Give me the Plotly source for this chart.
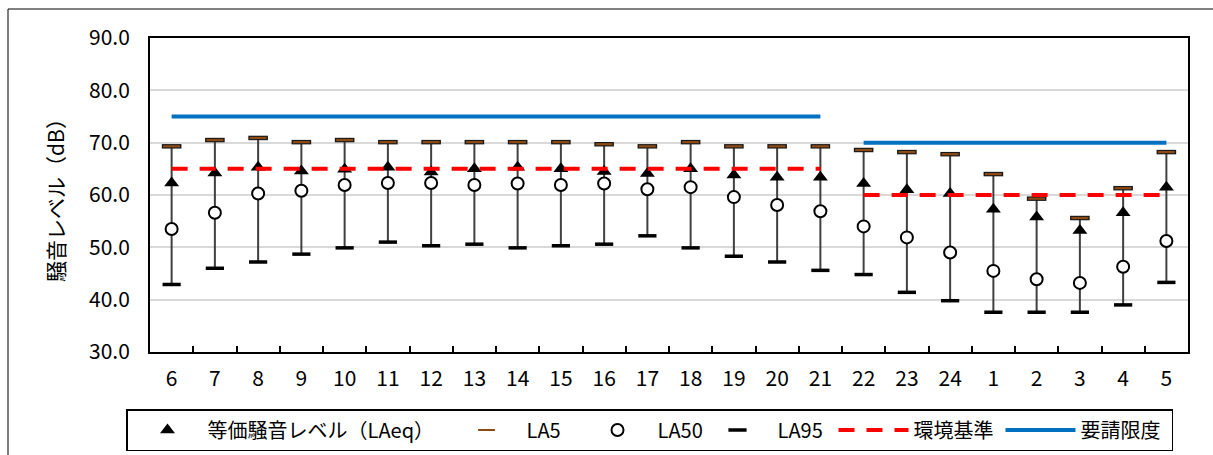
import plotly.graph_objects as go

# Hour of day (6時 → 翌5時)
hours = ["6", "7", "8", "9", "10", "11", "12", "13", "14", "15", "16", "17",
         "18", "19", "20", "21", "22", "23", "24", "1", "2", "3", "4", "5"]

# Measured levels (dB)
laeq = [62.3, 64.2, 65.3, 64.6, 64.9, 65.3, 64.4, 65.0, 65.3, 65.0, 64.5, 64.1,
        65.0, 63.8, 63.4, 63.4, 62.2, 61.0, 60.3, 57.3, 55.8, 53.2, 56.6, 61.5]
la5 = [69.3, 70.5, 70.9, 70.1, 70.5, 70.1, 70.1, 70.1, 70.1, 70.1, 69.7, 69.3,
       70.1, 69.3, 69.3, 69.3, 68.6, 68.2, 67.8, 64.0, 59.3, 55.6, 61.3, 68.2]
la50 = [53.5, 56.6, 60.3, 60.8, 61.9, 62.3, 62.3, 61.9, 62.2, 61.9, 62.2, 61.1,
        61.5, 59.6, 58.1, 56.9, 54.0, 51.9, 49.0, 45.5, 43.9, 43.2, 46.3, 51.2]
la95 = [42.9, 46.0, 47.2, 48.7, 49.9, 51.0, 50.3, 50.6, 49.9, 50.3, 50.6, 52.2,
        49.9, 48.3, 47.2, 45.6, 44.8, 41.4, 39.8, 37.6, 37.6, 37.6, 39.0, 43.3]

# Reference levels: daytime (6-21) and night-time (22-5)
env_std = [65, 65, 65, 65, 65, 65, 65, 65, 65, 65, 65, 65, 65, 65, 65, 65,
           60, 60, 60, 60, 60, 60, 60, 60]
req_limit = [75, 75, 75, 75, 75, 75, 75, 75, 75, 75, 75, 75, 75, 75, 75, 75,
             70, 70, 70, 70, 70, 70, 70, 70]
day_count = 16

FONT = "Noto Sans CJK JP"
BROWN = "#8c4a14"

W, H = 1213, 455
ML, MR, MT, MB = 150, 25, 38, 103
PW, PH = W - ML - MR, H - MT - MB


def split_periods(values):
    """Insert a gap between the daytime and night-time segments."""
    xs = hours[:day_count] + [None] + hours[day_count:]
    ys = values[:day_count] + [None] + values[day_count:]
    return xs, ys


def px_to_paper(px=None, py=None):
    """Convert figure pixel positions into paper coordinates."""
    if px is not None:
        return (px - ML) / PW
    return (H - MB - py) / PH


fig = go.Figure()

# Vertical range bars LA95 → LA5
fig.add_trace(go.Scatter(
    x=hours, y=la95, mode="markers",
    marker=dict(size=1, opacity=0),
    error_y=dict(type="data", symmetric=False,
                 array=[hi - lo for hi, lo in zip(la5, la95)],
                 arrayminus=[0] * len(la95),
                 color="#404040", thickness=2, width=0),
    showlegend=False, hoverinfo="skip",
))

# LA95 caps
fig.add_trace(go.Scatter(
    x=hours, y=la95, mode="markers", name="LA95",
    marker=dict(symbol="line-ew", size=13, line=dict(color="#000000", width=3.5)),
    legendrank=4, legendwidth=51,
))

# LA5 caps (dark outline + brown fill)
fig.add_trace(go.Scatter(
    x=hours, y=la5, mode="markers",
    marker=dict(symbol="line-ew", size=14, line=dict(color="#1a1a1a", width=4.5)),
    showlegend=False, hoverinfo="skip",
))
fig.add_trace(go.Scatter(
    x=hours, y=la5, mode="markers", name="LA5",
    marker=dict(symbol="line-ew", size=12, line=dict(color=BROWN, width=2.2)),
    legendrank=2, legendwidth=46,
))

# LA50 open circles
fig.add_trace(go.Scatter(
    x=hours, y=la50, mode="markers", name="LA50",
    marker=dict(symbol="circle", size=12, color="#ffffff",
                line=dict(color="#000000", width=2)),
    legendrank=3, legendwidth=35,
))

# LAeq filled triangles
fig.add_trace(go.Scatter(
    x=hours, y=laeq, mode="markers", name="等価騒音レベル（LAeq）",
    marker=dict(symbol="triangle-up", size=13, color="#000000"),
    legendrank=1, legendwidth=234,
))

# Environmental quality standard
ex, ey = split_periods(env_std)
fig.add_trace(go.Scatter(
    x=ex, y=ey, mode="lines", name="環境基準",
    line=dict(color="#ff0000", width=4, dash="16px,12px"),
    connectgaps=False, legendrank=5, legendwidth=82,
))

# Request limit
rx, ry = split_periods(req_limit)
fig.add_trace(go.Scatter(
    x=rx, y=ry, mode="lines", name="要請限度",
    line=dict(color="#0070c0", width=4),
    connectgaps=False, legendrank=6, legendwidth=86,
))

fig.update_layout(
    width=W, height=H,
    margin=dict(l=ML, r=MR, t=MT, b=MB, autoexpand=False),
    paper_bgcolor="#ffffff", plot_bgcolor="#ffffff",
    font=dict(family=FONT, size=21, color="#000000"),
    showlegend=True,
    legend=dict(
        orientation="h", x=px_to_paper(px=126), xanchor="left",
        y=px_to_paper(py=409), yanchor="top",
        bordercolor="#000000", borderwidth=1.5, bgcolor="#ffffff",
        itemwidth=70, traceorder="normal", itemsizing="trace",
        font=dict(family=FONT, size=20, color="#000000"),
    ),
    xaxis=dict(
        type="category", categoryorder="array", categoryarray=hours,
        range=[-0.5, len(hours) - 0.5],
        showline=True, linecolor="#000000", linewidth=2, mirror=True,
        ticks="inside", tickson="boundaries", ticklen=6, tickwidth=1.5,
        tickcolor="#000000", showgrid=False, ticklabelstandoff=7,
        tickfont=dict(family=FONT, size=21), fixedrange=True,
    ),
    yaxis=dict(
        range=[30, 90], dtick=10, tick0=30, tickformat=".1f",
        showline=True, linecolor="#000000", linewidth=2, mirror=True,
        showgrid=True, gridcolor="#d9d9d9", gridwidth=1.5,
        zeroline=False, ticks="", ticklabelstandoff=14,
        tickfont=dict(family=FONT, size=21),
        title=dict(text="騒音レベル（dB）", standoff=19,
                   font=dict(family=FONT, size=21)),
        fixedrange=True,
    ),
)

# Chart frame (top and left edges; the rest runs past the canvas)
frame = dict(color="#000000", width=1)
fig.add_shape(type="line", xref="paper", yref="paper", layer="below",
              x0=px_to_paper(px=8), x1=px_to_paper(px=W + 20),
              y0=px_to_paper(py=9), y1=px_to_paper(py=9), line=frame)
fig.add_shape(type="line", xref="paper", yref="paper", layer="below",
              x0=px_to_paper(px=8), x1=px_to_paper(px=8),
              y0=px_to_paper(py=9), y1=px_to_paper(py=H + 20), line=frame)

fig.write_html("out.html")
